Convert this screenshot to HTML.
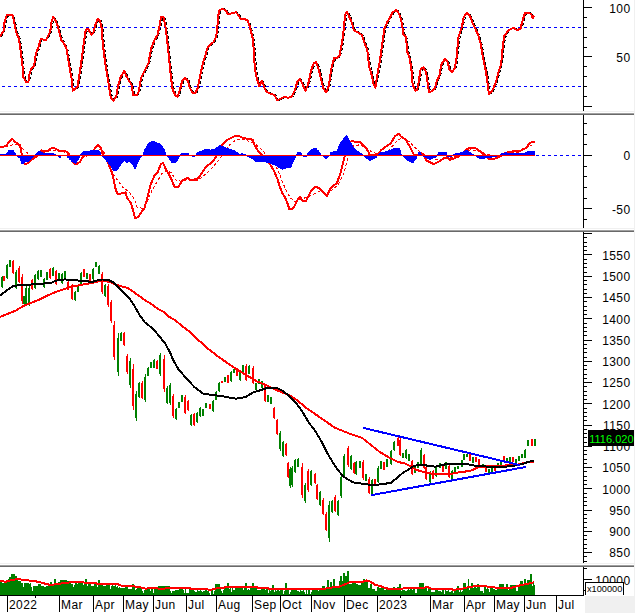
<!DOCTYPE html>
<html><head><meta charset="utf-8"><style>
html,body{margin:0;padding:0;background:#fff;width:635px;height:613px;overflow:hidden}
</style></head><body>
<svg width="635" height="613" viewBox="0 0 635 613" style="display:block"><rect x="0" y="0" width="635" height="613" fill="#fff"/><rect x="585" y="596" width="50" height="17" fill="#f0f0f0"/><rect x="634" y="0" width="1" height="596" fill="#f0f0f0"/><rect x="0" y="111" width="634" height="1" fill="#f0f0f0"/><rect x="0" y="113" width="634" height="1" fill="#a0a0a0"/><rect x="0" y="114" width="634" height="1" fill="#696969"/><rect x="0" y="228" width="634" height="1" fill="#f0f0f0"/><rect x="0" y="230" width="634" height="1" fill="#a0a0a0"/><rect x="0" y="231" width="634" height="1" fill="#696969"/><rect x="0" y="563" width="634" height="1" fill="#f0f0f0"/><rect x="0" y="565" width="634" height="1" fill="#a0a0a0"/><rect x="0" y="566" width="634" height="1" fill="#696969"/><rect x="583" y="0" width="1" height="111" fill="#000"/><rect x="583" y="115" width="1" height="113" fill="#000"/><rect x="583" y="232" width="1" height="331" fill="#000"/><rect x="583" y="567" width="1" height="28" fill="#000"/><rect x="583" y="7" width="9" height="1" fill="#000"/><rect x="583" y="17" width="4" height="1" fill="#000"/><rect x="583" y="27" width="4" height="1" fill="#000"/><rect x="583" y="37" width="4" height="1" fill="#000"/><rect x="583" y="47" width="4" height="1" fill="#000"/><rect x="583" y="56" width="9" height="1" fill="#000"/><rect x="583" y="66" width="4" height="1" fill="#000"/><rect x="583" y="76" width="4" height="1" fill="#000"/><rect x="583" y="86" width="4" height="1" fill="#000"/><rect x="583" y="96" width="4" height="1" fill="#000"/><rect x="583" y="106" width="9" height="1" fill="#000"/><text x="630.5" y="13.1" text-anchor="end" font-family='"Liberation Sans", sans-serif' font-size="12" letter-spacing="0.4" fill="#000">100</text><text x="630.5" y="61.7" text-anchor="end" font-family='"Liberation Sans", sans-serif' font-size="12" letter-spacing="0.4" fill="#000">50</text><rect x="583" y="219" width="4" height="1" fill="#000"/><rect x="583" y="208" width="9" height="1" fill="#000"/><rect x="583" y="198" width="4" height="1" fill="#000"/><rect x="583" y="187" width="4" height="1" fill="#000"/><rect x="583" y="176" width="4" height="1" fill="#000"/><rect x="583" y="166" width="4" height="1" fill="#000"/><rect x="583" y="155" width="9" height="1" fill="#000"/><rect x="583" y="144" width="4" height="1" fill="#000"/><rect x="583" y="134" width="4" height="1" fill="#000"/><rect x="583" y="123" width="4" height="1" fill="#000"/><text x="630.5" y="160.2" text-anchor="end" font-family='"Liberation Sans", sans-serif' font-size="12" letter-spacing="0.4" fill="#000">0</text><text x="630.5" y="213.5" text-anchor="end" font-family='"Liberation Sans", sans-serif' font-size="12" letter-spacing="0.4" fill="#000">-50</text><rect x="583" y="233" width="9" height="1" fill="#000"/><rect x="583" y="237" width="4" height="1" fill="#000"/><rect x="583" y="242" width="4" height="1" fill="#000"/><rect x="583" y="246" width="4" height="1" fill="#000"/><rect x="583" y="250" width="4" height="1" fill="#000"/><rect x="583" y="254" width="9" height="1" fill="#000"/><rect x="583" y="259" width="4" height="1" fill="#000"/><rect x="583" y="263" width="4" height="1" fill="#000"/><rect x="583" y="267" width="4" height="1" fill="#000"/><rect x="583" y="272" width="4" height="1" fill="#000"/><rect x="583" y="276" width="9" height="1" fill="#000"/><rect x="583" y="280" width="4" height="1" fill="#000"/><rect x="583" y="284" width="4" height="1" fill="#000"/><rect x="583" y="289" width="4" height="1" fill="#000"/><rect x="583" y="293" width="4" height="1" fill="#000"/><rect x="583" y="297" width="9" height="1" fill="#000"/><rect x="583" y="301" width="4" height="1" fill="#000"/><rect x="583" y="306" width="4" height="1" fill="#000"/><rect x="583" y="310" width="4" height="1" fill="#000"/><rect x="583" y="314" width="4" height="1" fill="#000"/><rect x="583" y="318" width="9" height="1" fill="#000"/><rect x="583" y="323" width="4" height="1" fill="#000"/><rect x="583" y="327" width="4" height="1" fill="#000"/><rect x="583" y="331" width="4" height="1" fill="#000"/><rect x="583" y="335" width="4" height="1" fill="#000"/><rect x="583" y="340" width="9" height="1" fill="#000"/><rect x="583" y="344" width="4" height="1" fill="#000"/><rect x="583" y="348" width="4" height="1" fill="#000"/><rect x="583" y="352" width="4" height="1" fill="#000"/><rect x="583" y="357" width="4" height="1" fill="#000"/><rect x="583" y="361" width="9" height="1" fill="#000"/><rect x="583" y="365" width="4" height="1" fill="#000"/><rect x="583" y="369" width="4" height="1" fill="#000"/><rect x="583" y="374" width="4" height="1" fill="#000"/><rect x="583" y="378" width="4" height="1" fill="#000"/><rect x="583" y="382" width="9" height="1" fill="#000"/><rect x="583" y="386" width="4" height="1" fill="#000"/><rect x="583" y="391" width="4" height="1" fill="#000"/><rect x="583" y="395" width="4" height="1" fill="#000"/><rect x="583" y="399" width="4" height="1" fill="#000"/><rect x="583" y="403" width="9" height="1" fill="#000"/><rect x="583" y="408" width="4" height="1" fill="#000"/><rect x="583" y="412" width="4" height="1" fill="#000"/><rect x="583" y="416" width="4" height="1" fill="#000"/><rect x="583" y="420" width="4" height="1" fill="#000"/><rect x="583" y="425" width="9" height="1" fill="#000"/><rect x="583" y="429" width="4" height="1" fill="#000"/><rect x="583" y="433" width="4" height="1" fill="#000"/><rect x="583" y="437" width="4" height="1" fill="#000"/><rect x="583" y="442" width="4" height="1" fill="#000"/><rect x="583" y="446" width="9" height="1" fill="#000"/><rect x="583" y="450" width="4" height="1" fill="#000"/><rect x="583" y="454" width="4" height="1" fill="#000"/><rect x="583" y="459" width="4" height="1" fill="#000"/><rect x="583" y="463" width="4" height="1" fill="#000"/><rect x="583" y="467" width="9" height="1" fill="#000"/><rect x="583" y="471" width="4" height="1" fill="#000"/><rect x="583" y="476" width="4" height="1" fill="#000"/><rect x="583" y="480" width="4" height="1" fill="#000"/><rect x="583" y="484" width="4" height="1" fill="#000"/><rect x="583" y="488" width="9" height="1" fill="#000"/><rect x="583" y="493" width="4" height="1" fill="#000"/><rect x="583" y="497" width="4" height="1" fill="#000"/><rect x="583" y="501" width="4" height="1" fill="#000"/><rect x="583" y="505" width="4" height="1" fill="#000"/><rect x="583" y="510" width="9" height="1" fill="#000"/><rect x="583" y="514" width="4" height="1" fill="#000"/><rect x="583" y="518" width="4" height="1" fill="#000"/><rect x="583" y="522" width="4" height="1" fill="#000"/><rect x="583" y="527" width="4" height="1" fill="#000"/><rect x="583" y="531" width="9" height="1" fill="#000"/><rect x="583" y="535" width="4" height="1" fill="#000"/><rect x="583" y="539" width="4" height="1" fill="#000"/><rect x="583" y="544" width="4" height="1" fill="#000"/><rect x="583" y="548" width="4" height="1" fill="#000"/><rect x="583" y="552" width="9" height="1" fill="#000"/><rect x="583" y="556" width="4" height="1" fill="#000"/><rect x="583" y="561" width="4" height="1" fill="#000"/><text x="630.5" y="259.7" text-anchor="end" font-family='"Liberation Sans", sans-serif' font-size="12" letter-spacing="0.4" fill="#000">1550</text><text x="630.5" y="281.0" text-anchor="end" font-family='"Liberation Sans", sans-serif' font-size="12" letter-spacing="0.4" fill="#000">1500</text><text x="630.5" y="302.2" text-anchor="end" font-family='"Liberation Sans", sans-serif' font-size="12" letter-spacing="0.4" fill="#000">1450</text><text x="630.5" y="323.5" text-anchor="end" font-family='"Liberation Sans", sans-serif' font-size="12" letter-spacing="0.4" fill="#000">1400</text><text x="630.5" y="344.7" text-anchor="end" font-family='"Liberation Sans", sans-serif' font-size="12" letter-spacing="0.4" fill="#000">1350</text><text x="630.5" y="366.0" text-anchor="end" font-family='"Liberation Sans", sans-serif' font-size="12" letter-spacing="0.4" fill="#000">1300</text><text x="630.5" y="387.3" text-anchor="end" font-family='"Liberation Sans", sans-serif' font-size="12" letter-spacing="0.4" fill="#000">1250</text><text x="630.5" y="408.5" text-anchor="end" font-family='"Liberation Sans", sans-serif' font-size="12" letter-spacing="0.4" fill="#000">1200</text><text x="630.5" y="429.8" text-anchor="end" font-family='"Liberation Sans", sans-serif' font-size="12" letter-spacing="0.4" fill="#000">1150</text><text x="630.5" y="451.0" text-anchor="end" font-family='"Liberation Sans", sans-serif' font-size="12" letter-spacing="0.4" fill="#000">1100</text><text x="630.5" y="472.3" text-anchor="end" font-family='"Liberation Sans", sans-serif' font-size="12" letter-spacing="0.4" fill="#000">1050</text><text x="630.5" y="493.6" text-anchor="end" font-family='"Liberation Sans", sans-serif' font-size="12" letter-spacing="0.4" fill="#000">1000</text><text x="630.5" y="514.8" text-anchor="end" font-family='"Liberation Sans", sans-serif' font-size="12" letter-spacing="0.4" fill="#000">950</text><text x="630.5" y="536.1" text-anchor="end" font-family='"Liberation Sans", sans-serif' font-size="12" letter-spacing="0.4" fill="#000">900</text><text x="630.5" y="557.3" text-anchor="end" font-family='"Liberation Sans", sans-serif' font-size="12" letter-spacing="0.4" fill="#000">850</text><rect x="583" y="568" width="4" height="1" fill="#000"/><rect x="583" y="579" width="9" height="1" fill="#000"/><rect x="583" y="590" width="4" height="1" fill="#000"/><text x="630.5" y="584.6" text-anchor="end" font-family='"Liberation Sans", sans-serif' font-size="12" letter-spacing="0.4" fill="#000">10000</text><g shape-rendering="crispEdges"><line x1="0" y1="27.5" x2="583" y2="27.5" stroke="#0000ff" stroke-width="1" stroke-dasharray="3 3" stroke-dashoffset="4"/><line x1="0" y1="86.5" x2="583" y2="86.5" stroke="#0000ff" stroke-width="1" stroke-dasharray="3 3" stroke-dashoffset="4"/><line x1="0" y1="155.5" x2="583" y2="155.5" stroke="#0000ff" stroke-width="1" stroke-dasharray="3 3" stroke-dashoffset="4"/></g><path d="M0.7 36.8 L1.2 36.3 L1.7 35.8 L2.2 35.3 L2.7 34.3 L3.2 33.5 L3.7 32.7 L4.2 32.0 L4.7 31.0 L5.2 28.6 L5.7 25.9 L6.2 22.9 L6.7 20.1 L7.2 18.5 L7.7 17.1 L8.2 16.1 L8.7 15.4 L9.2 15.0 L9.7 14.9 L10.2 14.8 L10.7 14.8 L11.2 14.9 L11.7 14.9 L12.2 15.0 L12.7 15.1 L13.2 15.2 L13.7 15.7 L14.2 16.7 L14.7 18.3 L15.2 20.4 L15.7 22.7 L16.2 25.1 L16.7 27.6 L17.2 29.9 L17.7 31.8 L18.2 33.5 L18.7 34.8 L19.2 35.9 L19.7 37.2 L20.2 39.0 L20.7 41.5 L21.2 44.5 L21.7 48.0 L22.2 51.7 L22.7 55.5 L23.2 59.6 L23.7 64.5 L24.2 69.5 L24.7 73.7 L25.2 77.0 L25.7 78.8 L26.2 79.6 L26.7 80.5 L27.2 81.1 L27.7 81.5 L28.2 81.7 L28.7 81.7 L29.2 81.5 L29.7 80.5 L30.2 78.7 L30.7 76.3 L31.2 73.8 L31.7 71.7 L32.2 70.2 L32.7 69.0 L33.2 68.0 L33.7 67.3 L34.2 66.8 L34.7 66.3 L35.2 65.3 L35.7 63.6 L36.2 61.2 L36.7 58.2 L37.2 55.5 L37.7 53.3 L38.2 51.6 L38.7 50.3 L39.2 49.0 L39.7 47.5 L40.2 46.0 L40.7 44.4 L41.2 42.7 L41.7 41.0 L42.2 39.8 L42.7 39.1 L43.2 38.9 L43.7 39.2 L44.2 39.3 L44.7 39.5 L45.2 39.7 L45.7 39.9 L46.2 40.0 L46.7 40.1 L47.2 39.9 L47.7 39.3 L48.2 38.5 L48.7 37.5 L49.2 36.5 L49.7 35.5 L50.2 34.5 L50.7 33.5 L51.2 32.1 L51.7 29.9 L52.2 27.3 L52.7 24.4 L53.2 21.8 L53.7 19.9 L54.2 18.7 L54.7 18.1 L55.2 18.1 L55.7 18.6 L56.2 19.3 L56.7 20.1 L57.2 21.1 L57.7 22.2 L58.2 23.5 L58.7 24.9 L59.2 26.4 L59.7 28.0 L60.2 29.9 L60.7 31.9 L61.2 34.1 L61.7 36.2 L62.2 38.0 L62.7 39.5 L63.2 40.5 L63.7 41.2 L64.2 41.8 L64.7 42.5 L65.2 43.3 L65.7 44.2 L66.2 45.2 L66.7 46.2 L67.2 47.3 L67.7 48.9 L68.2 51.0 L68.7 53.6 L69.2 56.5 L69.7 59.5 L70.2 62.5 L70.7 65.5 L71.2 68.4 L71.7 71.1 L72.2 73.8 L72.7 76.7 L73.2 80.6 L73.7 84.4 L74.2 87.6 L74.7 89.7 L75.2 90.0 L75.7 89.7 L76.2 89.3 L76.7 88.9 L77.2 88.4 L77.7 87.9 L78.2 87.2 L78.7 86.1 L79.2 84.4 L79.7 82.0 L80.2 79.0 L80.7 75.9 L81.2 72.6 L81.7 69.3 L82.2 65.9 L82.7 62.3 L83.2 58.7 L83.7 55.0 L84.2 51.2 L84.7 47.4 L85.2 43.6 L85.7 40.0 L86.2 36.5 L86.7 33.4 L87.2 31.3 L87.7 29.9 L88.2 29.2 L88.7 29.0 L89.2 29.1 L89.7 29.5 L90.2 30.2 L90.7 31.2 L91.2 32.0 L91.7 32.7 L92.2 33.3 L92.7 33.8 L93.2 34.0 L93.7 33.8 L94.2 33.2 L94.7 32.1 L95.2 30.7 L95.7 28.9 L96.2 27.0 L96.7 25.3 L97.2 23.9 L97.7 22.6 L98.2 21.4 L98.7 20.4 L99.2 19.7 L99.7 19.5 L100.2 19.6 L100.7 20.0 L101.2 20.9 L101.7 22.2 L102.2 24.0 L102.7 26.8 L103.2 31.1 L103.7 36.2 L104.2 41.7 L104.7 47.1 L105.2 51.5 L105.7 55.4 L106.2 59.4 L106.7 63.1 L107.2 66.5 L107.7 69.7 L108.2 72.7 L108.7 75.7 L109.2 78.7 L109.7 81.8 L110.2 84.9 L110.7 88.0 L111.2 91.2 L111.7 94.1 L112.2 96.3 L112.7 97.9 L113.2 98.8 L113.7 99.2 L114.2 99.8 L114.7 100.0 L115.2 99.9 L115.7 99.5 L116.2 98.8 L116.7 98.2 L117.2 97.2 L117.7 95.6 L118.2 93.4 L118.7 90.7 L119.2 88.0 L119.7 85.6 L120.2 83.6 L120.7 81.9 L121.2 80.1 L121.7 78.6 L122.2 77.2 L122.7 76.1 L123.2 75.2 L123.7 74.3 L124.2 73.4 L124.7 72.6 L125.2 72.0 L125.7 71.9 L126.2 72.4 L126.7 73.3 L127.2 74.5 L127.7 75.7 L128.2 76.7 L128.7 77.7 L129.2 78.6 L129.7 79.4 L130.2 80.2 L130.7 81.0 L131.2 81.8 L131.7 82.6 L132.2 83.5 L132.7 84.9 L133.2 86.9 L133.7 89.5 L134.2 92.1 L134.7 93.9 L135.2 94.9 L135.7 95.2 L136.2 95.2 L136.7 95.2 L137.2 95.2 L137.7 95.1 L138.2 94.8 L138.7 94.2 L139.2 93.3 L139.7 92.0 L140.2 90.2 L140.7 88.0 L141.2 85.5 L141.7 82.8 L142.2 80.3 L142.7 78.2 L143.2 76.6 L143.7 75.3 L144.2 74.3 L144.7 73.3 L145.2 72.3 L145.7 71.3 L146.2 70.3 L146.7 69.3 L147.2 68.3 L147.7 67.3 L148.2 66.3 L148.7 65.3 L149.2 64.3 L149.7 62.9 L150.2 61.1 L150.7 58.8 L151.2 56.2 L151.7 53.5 L152.2 51.1 L152.7 49.0 L153.2 47.2 L153.7 45.7 L154.2 44.4 L154.7 43.1 L155.2 41.9 L155.7 40.8 L156.2 39.8 L156.7 38.9 L157.2 38.1 L157.7 37.2 L158.2 36.3 L158.7 35.1 L159.2 33.5 L159.7 31.6 L160.2 29.4 L160.7 27.1 L161.2 24.6 L161.7 21.8 L162.2 19.6 L162.7 18.0 L163.2 17.1 L163.7 17.1 L164.2 17.1 L164.7 17.5 L165.2 18.6 L165.7 20.4 L166.2 22.8 L166.7 25.9 L167.2 29.2 L167.7 32.9 L168.2 37.0 L168.7 41.3 L169.2 45.9 L169.7 50.7 L170.2 55.7 L170.7 60.7 L171.2 65.7 L171.7 70.6 L172.2 75.2 L172.7 79.3 L173.2 83.2 L173.7 86.3 L174.2 88.8 L174.7 90.7 L175.2 91.9 L175.7 92.9 L176.2 93.9 L176.7 94.7 L177.2 95.3 L177.7 95.9 L178.2 96.2 L178.7 96.2 L179.2 95.8 L179.7 94.8 L180.2 93.3 L180.7 91.8 L181.2 90.1 L181.7 88.3 L182.2 86.5 L182.7 84.5 L183.2 82.8 L183.7 81.4 L184.2 80.5 L184.7 79.9 L185.2 79.4 L185.7 79.0 L186.2 78.7 L186.7 78.6 L187.2 78.7 L187.7 79.0 L188.2 79.5 L188.7 80.0 L189.2 80.9 L189.7 82.2 L190.2 83.8 L190.7 85.7 L191.2 87.3 L191.7 88.6 L192.2 89.6 L192.7 90.4 L193.2 91.2 L193.7 91.9 L194.2 92.4 L194.7 92.8 L195.2 92.9 L195.7 93.1 L196.2 93.1 L196.7 92.8 L197.2 92.1 L197.7 91.2 L198.2 90.2 L198.7 89.0 L199.2 87.3 L199.7 85.3 L200.2 82.8 L200.7 80.1 L201.2 77.5 L201.7 75.1 L202.2 72.8 L202.7 70.6 L203.2 68.5 L203.7 66.4 L204.2 64.4 L204.7 62.5 L205.2 60.6 L205.7 58.9 L206.2 57.2 L206.7 55.6 L207.2 53.9 L207.7 52.1 L208.2 50.4 L208.7 49.0 L209.2 47.9 L209.7 47.1 L210.2 46.4 L210.7 45.8 L211.2 45.2 L211.7 44.7 L212.2 44.3 L212.7 43.9 L213.2 43.5 L213.7 43.1 L214.2 42.8 L214.7 42.2 L215.2 41.5 L215.7 40.7 L216.2 39.7 L216.7 38.7 L217.2 37.2 L217.7 34.8 L218.2 31.4 L218.7 27.0 L219.2 22.2 L219.7 17.5 L220.2 13.9 L220.7 11.5 L221.2 10.3 L221.7 10.0 L222.2 9.6 L222.7 9.3 L223.2 9.0 L223.7 8.9 L224.2 8.9 L224.7 9.1 L225.2 9.4 L225.7 9.7 L226.2 10.0 L226.7 10.3 L227.2 10.8 L227.7 11.4 L228.2 12.1 L228.7 12.9 L229.2 13.5 L229.7 13.8 L230.2 13.9 L230.7 13.8 L231.2 13.7 L231.7 13.7 L232.2 13.6 L232.7 13.5 L233.2 13.4 L233.7 13.3 L234.2 13.1 L234.7 13.0 L235.2 12.8 L235.7 12.7 L236.2 12.5 L236.7 12.4 L237.2 12.5 L237.7 12.7 L238.2 13.2 L238.7 13.8 L239.2 14.3 L239.7 15.0 L240.2 15.7 L240.7 16.6 L241.2 17.6 L241.7 18.2 L242.2 18.7 L242.7 18.9 L243.2 18.9 L243.7 18.9 L244.2 18.9 L244.7 18.9 L245.2 19.0 L245.7 19.1 L246.2 19.3 L246.7 19.5 L247.2 19.7 L247.7 20.0 L248.2 20.2 L248.7 20.6 L249.2 21.3 L249.7 22.3 L250.2 23.5 L250.7 25.0 L251.2 26.6 L251.7 28.5 L252.2 30.5 L252.7 32.5 L253.2 34.5 L253.7 36.5 L254.2 39.8 L254.7 44.3 L255.2 50.7 L255.7 58.1 L256.2 64.4 L256.7 69.5 L257.2 72.9 L257.7 75.3 L258.2 77.4 L258.7 79.4 L259.2 81.2 L259.7 82.9 L260.2 84.2 L260.7 84.9 L261.2 84.8 L261.7 84.1 L262.2 83.1 L262.7 82.2 L263.2 81.9 L263.7 82.2 L264.2 83.1 L264.7 84.4 L265.2 85.7 L265.7 87.0 L266.2 88.2 L266.7 89.3 L267.2 90.3 L267.7 91.0 L268.2 91.6 L268.7 92.0 L269.2 92.3 L269.7 92.5 L270.2 92.8 L270.7 93.0 L271.2 93.3 L271.7 93.5 L272.2 93.7 L272.7 93.9 L273.2 94.1 L273.7 94.3 L274.2 94.5 L274.7 94.7 L275.2 94.9 L275.7 95.3 L276.2 95.9 L276.7 96.7 L277.2 97.7 L277.7 98.6 L278.2 99.4 L278.7 99.9 L279.2 100.1 L279.7 100.0 L280.2 99.7 L280.7 99.5 L281.2 99.2 L281.7 99.0 L282.2 98.7 L282.7 98.5 L283.2 98.2 L283.7 98.0 L284.2 97.7 L284.7 97.5 L285.2 97.2 L285.7 97.1 L286.2 97.1 L286.7 97.1 L287.2 97.2 L287.7 97.4 L288.2 97.5 L288.7 97.6 L289.2 97.7 L289.7 97.7 L290.2 97.6 L290.7 97.5 L291.2 97.4 L291.7 97.2 L292.2 97.1 L292.7 96.8 L293.2 96.3 L293.7 95.6 L294.2 94.6 L294.7 93.7 L295.2 92.6 L295.7 91.4 L296.2 90.1 L296.7 88.6 L297.2 87.0 L297.7 85.5 L298.2 84.0 L298.7 82.6 L299.2 81.4 L299.7 80.6 L300.2 80.0 L300.7 79.6 L301.2 79.6 L301.7 79.9 L302.2 80.5 L302.7 81.5 L303.2 82.5 L303.7 83.5 L304.2 84.6 L304.7 85.7 L305.2 86.9 L305.7 88.0 L306.2 89.1 L306.7 89.5 L307.2 89.4 L307.7 88.7 L308.2 87.6 L308.7 86.4 L309.2 85.0 L309.7 83.3 L310.2 81.3 L310.7 79.0 L311.2 76.7 L311.7 74.5 L312.2 72.4 L312.7 70.6 L313.2 69.0 L313.7 67.5 L314.2 66.0 L314.7 64.7 L315.2 63.8 L315.7 63.2 L316.2 62.9 L316.7 62.5 L317.2 62.5 L317.7 62.9 L318.2 63.7 L318.7 65.1 L319.2 66.6 L319.7 68.1 L320.2 69.8 L320.7 71.6 L321.2 73.5 L321.7 75.6 L322.2 77.7 L322.7 79.7 L323.2 81.8 L323.7 83.8 L324.2 85.7 L324.7 87.3 L325.2 88.6 L325.7 89.6 L326.2 90.4 L326.7 91.2 L327.2 91.6 L327.7 91.4 L328.2 90.8 L328.7 89.6 L329.2 88.4 L329.7 86.9 L330.2 84.9 L330.7 82.3 L331.2 79.2 L331.7 75.9 L332.2 72.6 L332.7 69.7 L333.2 67.2 L333.7 65.1 L334.2 63.2 L334.7 61.4 L335.2 60.0 L335.7 58.9 L336.2 58.4 L336.7 58.3 L337.2 58.3 L337.7 58.3 L338.2 58.1 L338.7 57.8 L339.2 57.4 L339.7 56.9 L340.2 56.4 L340.7 55.4 L341.2 53.8 L341.7 51.7 L342.2 49.0 L342.7 46.4 L343.2 43.5 L343.7 40.3 L344.2 36.8 L344.7 32.9 L345.2 28.6 L345.7 24.0 L346.2 19.8 L346.7 16.3 L347.2 14.0 L347.7 12.8 L348.2 12.5 L348.7 12.7 L349.2 13.4 L349.7 14.5 L350.2 15.6 L350.7 16.8 L351.2 17.9 L351.7 19.1 L352.2 20.2 L352.7 21.3 L353.2 22.7 L353.7 24.2 L354.2 25.9 L354.7 27.8 L355.2 29.3 L355.7 30.3 L356.2 30.9 L356.7 31.2 L357.2 31.4 L357.7 31.7 L358.2 31.9 L358.7 32.2 L359.2 32.5 L359.7 32.8 L360.2 33.1 L360.7 33.4 L361.2 33.7 L361.7 34.0 L362.2 34.3 L362.7 34.7 L363.2 35.3 L363.7 36.3 L364.2 37.6 L364.7 39.0 L365.2 40.5 L365.7 42.0 L366.2 43.4 L366.7 44.8 L367.2 46.2 L367.7 47.5 L368.2 49.1 L368.7 51.6 L369.2 54.8 L369.7 58.8 L370.2 62.7 L370.7 65.9 L371.2 68.4 L371.7 70.2 L372.2 71.9 L372.7 73.6 L373.2 75.6 L373.7 77.8 L374.2 80.1 L374.7 82.3 L375.2 84.2 L375.7 85.6 L376.2 86.5 L376.7 86.1 L377.2 84.6 L377.7 82.0 L378.2 78.7 L378.7 75.5 L379.2 72.5 L379.7 69.8 L380.2 67.1 L380.7 64.4 L381.2 61.5 L381.7 58.2 L382.2 54.8 L382.7 51.1 L383.2 47.5 L383.7 43.9 L384.2 40.3 L384.7 36.8 L385.2 33.4 L385.7 30.6 L386.2 28.3 L386.7 26.7 L387.2 25.5 L387.7 24.4 L388.2 23.3 L388.7 22.3 L389.2 21.4 L389.7 20.5 L390.2 19.7 L390.7 18.9 L391.2 18.0 L391.7 17.1 L392.2 16.1 L392.7 15.1 L393.2 14.1 L393.7 13.3 L394.2 12.6 L394.7 12.0 L395.2 11.7 L395.7 11.3 L396.2 10.9 L396.7 10.5 L397.2 10.4 L397.7 10.4 L398.2 10.7 L398.7 11.2 L399.2 11.9 L399.7 12.6 L400.2 13.5 L400.7 14.5 L401.2 15.9 L401.7 17.4 L402.2 19.2 L402.7 21.3 L403.2 23.7 L403.7 26.7 L404.2 29.7 L404.7 32.4 L405.2 34.3 L405.7 35.3 L406.2 35.9 L406.7 36.5 L407.2 38.3 L407.7 41.9 L408.2 45.8 L408.7 49.9 L409.2 53.0 L409.7 54.5 L410.2 55.9 L410.7 57.4 L411.2 59.5 L411.7 62.1 L412.2 65.2 L412.7 69.2 L413.2 74.1 L413.7 78.7 L414.2 82.7 L414.7 85.6 L415.2 87.1 L415.7 88.2 L416.2 89.3 L416.7 89.9 L417.2 90.3 L417.7 90.2 L418.2 89.5 L418.7 88.3 L419.2 86.4 L419.7 84.0 L420.2 81.2 L420.7 78.2 L421.2 74.9 L421.7 72.1 L422.2 70.1 L422.7 68.8 L423.2 68.3 L423.7 68.0 L424.2 67.8 L424.7 67.9 L425.2 68.2 L425.7 68.9 L426.2 69.7 L426.7 70.5 L427.2 72.0 L427.7 74.2 L428.2 77.0 L428.7 80.5 L429.2 83.9 L429.7 87.1 L430.2 89.6 L430.7 91.2 L431.2 92.0 L431.7 91.9 L432.2 91.6 L432.7 91.3 L433.2 91.0 L433.7 90.6 L434.2 90.2 L434.7 89.8 L435.2 89.2 L435.7 88.8 L436.2 87.9 L436.7 86.6 L437.2 85.0 L437.7 83.1 L438.2 81.5 L438.7 80.1 L439.2 78.9 L439.7 77.9 L440.2 76.9 L440.7 75.4 L441.2 73.4 L441.7 70.9 L442.2 68.1 L442.7 65.9 L443.2 64.3 L443.7 63.2 L444.2 62.4 L444.7 61.7 L445.2 60.9 L445.7 60.2 L446.2 59.9 L446.7 59.8 L447.2 60.1 L447.7 60.5 L448.2 61.0 L448.7 61.8 L449.2 63.0 L449.7 64.6 L450.2 66.4 L450.7 68.0 L451.2 69.2 L451.7 70.0 L452.2 70.4 L452.7 70.9 L453.2 71.2 L453.7 71.2 L454.2 70.9 L454.7 70.3 L455.2 69.6 L455.7 68.7 L456.2 67.2 L456.7 65.2 L457.2 62.6 L457.7 59.0 L458.2 54.8 L458.7 49.8 L459.2 44.5 L459.7 40.2 L460.2 37.0 L460.7 34.9 L461.2 33.3 L461.7 31.8 L462.2 30.3 L462.7 28.8 L463.2 26.9 L463.7 24.7 L464.2 22.3 L464.7 19.9 L465.2 18.0 L465.7 16.6 L466.2 15.8 L466.7 15.2 L467.2 14.5 L467.7 13.9 L468.2 13.4 L468.7 13.2 L469.2 13.4 L469.7 13.9 L470.2 14.5 L470.7 15.2 L471.2 16.0 L471.7 17.0 L472.2 18.2 L472.7 19.5 L473.2 20.8 L473.7 22.1 L474.2 23.3 L474.7 24.4 L475.2 25.4 L475.7 26.4 L476.2 27.4 L476.7 28.5 L477.2 29.6 L477.7 30.7 L478.2 31.9 L478.7 33.0 L479.2 34.3 L479.7 35.7 L480.2 37.2 L480.7 38.8 L481.2 40.5 L481.7 42.3 L482.2 44.5 L482.7 47.1 L483.2 50.1 L483.7 53.3 L484.2 56.2 L484.7 58.9 L485.2 61.3 L485.7 63.5 L486.2 65.8 L486.7 68.3 L487.2 71.0 L487.7 73.9 L488.2 77.1 L488.7 80.7 L489.2 84.6 L489.7 88.5 L490.2 91.4 L490.7 93.0 L491.2 93.4 L491.7 92.9 L492.2 92.5 L492.7 91.9 L493.2 91.1 L493.7 90.3 L494.2 89.3 L494.7 88.3 L495.2 87.3 L495.7 86.1 L496.2 84.9 L496.7 83.6 L497.2 82.2 L497.7 80.8 L498.2 79.1 L498.7 77.3 L499.2 75.3 L499.7 73.4 L500.2 71.6 L500.7 70.0 L501.2 68.4 L501.7 66.4 L502.2 64.2 L502.7 61.2 L503.2 57.2 L503.7 52.5 L504.2 47.7 L504.7 43.4 L505.2 39.9 L505.7 37.6 L506.2 35.9 L506.7 34.8 L507.2 34.1 L507.7 33.4 L508.2 32.8 L508.7 32.2 L509.2 31.6 L509.7 31.1 L510.2 30.6 L510.7 30.1 L511.2 29.7 L511.7 29.4 L512.2 29.1 L512.7 28.8 L513.2 28.6 L513.7 28.3 L514.2 28.1 L514.7 28.1 L515.2 28.2 L515.7 28.4 L516.2 28.8 L516.7 29.1 L517.2 29.4 L517.7 29.7 L518.2 29.9 L518.7 29.9 L519.2 29.8 L519.7 29.6 L520.2 29.4 L520.7 29.2 L521.2 29.0 L521.7 28.4 L522.2 27.3 L522.7 25.7 L523.2 23.7 L523.7 21.9 L524.2 20.1 L524.7 18.5 L525.2 16.9 L525.7 15.3 L526.2 14.1 L526.7 13.3 L527.2 12.8 L527.7 12.8 L528.2 12.8 L528.7 12.7 L529.2 12.7 L529.7 12.7 L530.2 12.8 L530.7 13.1 L531.2 13.4 L531.7 13.7 L532.2 14.1 L532.7 14.8 L533.2 15.7 L533.7 16.6 L534.2 17.1 L534.7 17.1" fill="none" stroke="#000" stroke-width="1" stroke-dasharray="3 2" shape-rendering="crispEdges"/><path d="M0.0 36.8 L1.8 33.2 L3.9 30.5 L4.5 22.4 L6.8 15.3 L8.6 14.7 L12.6 15.3 L14.4 23.3 L16.2 32.3 L18.9 38.6 L20.6 50.3 L22.4 64.6 L23.3 77.2 L26.0 81.7 L28.4 81.7 L29.6 73.6 L31.4 68.2 L34.1 65.5 L35.9 53.9 L38.6 46.7 L40.9 38.6 L43.1 39.5 L45.8 40.4 L48.5 35.0 L50.3 31.4 L51.2 23.3 L53.1 17.1 L55.7 20.6 L58.3 27.8 L61.0 39.5 L63.7 43.1 L66.4 48.5 L68.2 59.2 L70.0 70.0 L71.8 79.0 L72.7 90.7 L75.4 88.9 L77.6 86.2 L79.9 71.8 L81.7 59.2 L84.4 38.6 L85.8 29.6 L88.0 28.7 L89.8 32.3 L91.9 34.6 L93.4 32.3 L95.2 25.1 L97.8 18.9 L100.0 20.6 L101.8 28.7 L102.7 43.1 L105.4 64.6 L108.1 80.8 L110.8 97.8 L113.5 100.5 L116.2 96.9 L118.0 86.2 L120.6 77.2 L124.2 70.9 L126.9 77.2 L131.4 84.4 L133.2 95.2 L136.8 95.2 L138.6 91.6 L141.3 77.2 L144.9 70.0 L148.5 62.8 L151.2 48.5 L153.9 41.3 L157.5 35.0 L160.1 23.3 L161.0 17.1 L163.7 17.1 L165.5 26.9 L167.3 41.3 L169.1 59.2 L170.9 77.2 L172.7 89.8 L175.4 95.2 L177.6 96.9 L179.9 89.8 L182.2 80.8 L185.3 78.1 L188.0 80.8 L189.8 88.0 L192.5 92.5 L195.2 93.4 L197.8 88.0 L200.0 76.0 L201.8 68.2 L203.6 61.0 L206.3 52.1 L207.2 48.5 L209.9 44.9 L213.5 42.2 L216.2 36.8 L217.1 28.7 L218.0 19.7 L218.9 10.8 L222.4 8.6 L226.0 10.8 L227.8 14.0 L231.4 13.5 L235.9 12.2 L238.6 15.3 L240.4 18.9 L244.0 18.9 L247.6 20.6 L249.4 25.1 L251.2 32.3 L253.0 39.5 L253.9 52.1 L254.8 68.2 L256.6 77.2 L259.2 86.2 L261.9 80.8 L264.6 88.0 L266.4 91.6 L270.0 93.4 L274.5 95.2 L277.2 100.5 L280.8 98.7 L284.4 96.9 L288.0 97.8 L291.6 96.9 L294.3 91.6 L296.0 86.2 L297.8 80.8 L300.0 79.0 L302.7 84.4 L305.4 90.7 L308.1 84.4 L310.8 71.8 L313.5 63.7 L316.2 61.9 L318.9 70.0 L321.5 80.8 L323.3 88.0 L326.0 92.5 L328.7 86.2 L331.4 68.2 L334.1 58.3 L336.8 58.3 L339.5 55.7 L342.2 41.3 L344.0 26.9 L345.2 14.4 L347.0 11.7 L349.4 17.1 L352.1 23.3 L353.9 30.5 L357.5 32.3 L361.9 35.0 L364.6 43.1 L367.3 50.3 L369.1 66.4 L371.8 75.4 L373.6 84.4 L375.4 88.0 L377.2 75.4 L379.9 61.0 L382.6 41.3 L384.4 28.7 L387.1 22.4 L389.8 18.0 L392.5 12.6 L396.1 9.9 L398.4 12.6 L400.0 16.2 L402.2 25.1 L403.2 34.1 L406.3 37.7 L406.8 50.3 L409.9 59.2 L411.7 71.8 L412.6 84.4 L415.3 90.7 L417.1 89.8 L418.9 80.8 L420.6 69.1 L423.3 67.3 L426.0 71.8 L427.8 84.4 L429.1 92.5 L432.3 90.7 L435.0 88.0 L436.8 80.8 L439.5 75.4 L441.3 64.6 L444.9 59.2 L447.6 61.9 L449.4 69.1 L452.1 71.8 L454.8 68.2 L456.6 57.5 L458.3 37.7 L461.9 26.9 L463.7 17.1 L467.3 12.6 L470.0 16.2 L472.7 23.3 L475.4 28.7 L478.1 35.0 L480.8 44.0 L482.9 57.5 L485.3 68.2 L487.1 79.0 L488.9 94.3 L491.6 91.6 L494.3 86.2 L496.9 79.0 L498.1 73.6 L500.4 66.4 L501.7 59.2 L502.9 44.9 L504.4 35.9 L507.1 32.3 L509.7 29.6 L513.3 27.8 L516.9 30.2 L520.5 28.7 L522.3 21.5 L525.0 12.9 L528.6 12.6 L531.3 14.4 L532.7 18.0 L534.5 15.8" fill="none" stroke="#ff0000" stroke-width="2" stroke-linejoin="round" shape-rendering="crispEdges"/><path d="M0.0 148.0 L8.7 146.0 L10.6 145.2 L20.0 144.0 L23.2 149.2 L25.6 151.5 L30.0 155.0 L35.0 157.0 L40.0 155.0 L45.0 152.0 L50.0 150.5 L60.0 150.5 L70.0 154.0 L78.0 158.0 L85.0 157.0 L92.0 153.0 L100.0 149.0 L107.9 156.0 L112.8 173.9 L117.7 180.5 L122.6 187.0 L129.2 191.9 L134.0 198.4 L137.3 207.4 L142.2 208.2 L147.1 201.7 L152.0 190.3 L156.9 182.1 L161.8 173.9 L166.7 170.7 L171.3 172.9 L176.4 180.4 L181.4 181.3 L187.9 179.6 L201.6 177.9 L210.4 169.7 L216.7 162.8 L220.5 157.7 L229.3 145.2 L235.6 140.1 L243.0 139.0 L255.6 144.1 L262.9 150.7 L270.2 160.2 L277.6 169.1 L282.0 180.8 L286.4 191.1 L290.8 198.4 L295.2 201.4 L301.1 199.2 L311.4 195.5 L318.5 191.6 L327.0 194.4 L338.3 184.5 L344.0 173.2 L348.2 156.2 L352.5 146.2 L359.6 144.8 L366.7 147.7 L370.9 151.2 L379.4 154.7 L389.3 149.8 L398.0 139.5 L404.0 138.0 L410.0 142.5 L417.5 149.9 L424.9 156.7 L439.9 160.4 L450.4 157.4 L459.4 155.9 L469.9 149.9 L480.3 151.4 L487.8 154.4 L497.0 157.0 L514.0 152.0 L532.0 145.0" fill="none" stroke="#ff0000" stroke-width="1" stroke-dasharray="3 2" shape-rendering="crispEdges"/><path d="M0.0 147.6 L6.3 146.0 L9.4 141.3 L12.2 138.5 L14.2 140.9 L15.0 141.9 L17.5 143.1 L20.0 145.7 L21.0 149.4 L21.9 155.1 L23.0 162.0 L26.0 164.5 L29.5 161.4 L33.9 158.3 L37.7 155.7 L41.5 150.1 L42.7 151.3 L47.8 151.0 L50.9 148.5 L53.4 147.9 L55.0 148.5 L57.6 149.8 L59.5 151.3 L65.1 150.8 L67.5 152.7 L68.9 155.0 L71.7 159.3 L74.1 163.6 L77.4 163.6 L80.2 161.7 L82.6 156.9 L85.0 155.0 L89.7 152.7 L92.5 151.3 L95.4 148.0 L98.2 145.1 L101.0 148.0 L102.5 153.6 L104.0 157.0 L106.5 160.0 L108.7 164.4 L111.6 171.7 L113.8 180.5 L116.0 190.8 L118.2 194.5 L122.6 193.0 L125.6 192.3 L127.0 198.1 L130.7 202.5 L132.9 209.9 L135.1 218.0 L138.0 217.2 L141.0 212.8 L144.6 207.7 L147.6 196.7 L150.5 184.9 L154.2 176.1 L157.9 171.7 L160.8 164.4 L163.1 162.8 L165.7 169.1 L168.8 174.1 L171.3 179.2 L174.5 186.7 L178.3 186.7 L182.7 180.4 L187.7 177.9 L190.2 180.4 L196.5 180.4 L200.3 175.4 L206.6 165.9 L211.6 162.8 L215.4 157.7 L216.7 154.6 L221.7 145.2 L226.8 140.1 L231.8 137.6 L235.6 135.7 L240.0 136.5 L243.8 138.2 L252.6 139.7 L254.8 145.6 L258.5 151.4 L262.2 155.1 L265.8 160.2 L270.2 164.6 L273.9 170.5 L277.6 179.3 L279.8 186.7 L282.0 192.5 L284.9 197.0 L287.9 204.3 L289.3 209.4 L292.3 209.4 L295.2 205.0 L298.1 198.4 L300.3 197.0 L302.5 200.6 L306.2 200.6 L309.9 193.0 L312.8 188.9 L315.7 186.6 L319.9 188.7 L323.5 192.3 L327.0 195.8 L331.2 187.3 L336.9 183.1 L340.5 173.2 L343.3 161.8 L345.4 153.3 L347.5 146.2 L351.1 141.3 L359.6 142.0 L363.8 145.5 L368.1 151.2 L369.5 154.7 L373.7 155.5 L378.0 154.0 L380.8 150.5 L386.5 146.2 L390.7 143.4 L395.0 136.3 L398.5 133.8 L401.0 136.5 L405.5 139.5 L410.0 146.9 L413.7 154.4 L416.0 155.9 L420.4 152.9 L423.4 154.4 L426.4 160.4 L429.4 161.9 L433.9 164.2 L438.4 161.9 L442.9 158.9 L447.4 156.7 L449.6 159.7 L453.4 158.9 L457.9 156.7 L462.4 153.7 L466.9 149.2 L469.9 147.7 L475.8 148.4 L480.3 151.4 L484.8 155.2 L488.7 158.8 L493.9 158.8 L499.1 157.1 L504.3 153.6 L509.5 151.9 L514.7 151.0 L518.1 151.9 L523.3 149.3 L526.8 147.5 L529.4 143.2 L532.0 142.0 L535.0 141.5" fill="none" stroke="#ff0000" stroke-width="2" stroke-linejoin="round" shape-rendering="crispEdges"/><path d="M0 154h1v1h-1zM1 154h1v1h-1zM2 154h1v1h-1zM3 154h1v1h-1zM4 154h1v1h-1zM5 154h1v1h-1zM6 153h1v2h-1zM7 152h1v3h-1zM8 150h1v5h-1zM9 150h1v5h-1zM10 150h1v5h-1zM11 150h1v5h-1zM12 150h1v5h-1zM13 150h1v5h-1zM14 152h1v3h-1zM15 153h1v2h-1zM16 156h1v0h-1zM17 156h1v1h-1zM18 156h1v2h-1zM19 156h1v2h-1zM20 156h1v5h-1zM21 156h1v8h-1zM22 156h1v8h-1zM23 156h1v8h-1zM24 156h1v7h-1zM25 156h1v6h-1zM26 156h1v6h-1zM27 156h1v6h-1zM28 156h1v6h-1zM29 156h1v5h-1zM30 156h1v4h-1zM31 156h1v3h-1zM32 156h1v2h-1zM33 156h1v1h-1zM34 156h1v0h-1zM35 154h1v1h-1zM36 153h1v2h-1zM37 152h1v3h-1zM38 151h1v4h-1zM39 151h1v4h-1zM40 151h1v4h-1zM41 152h1v3h-1zM42 152h1v3h-1zM43 153h1v2h-1zM44 153h1v2h-1zM45 153h1v2h-1zM46 153h1v2h-1zM47 153h1v2h-1zM48 153h1v2h-1zM49 153h1v2h-1zM50 153h1v2h-1zM51 153h1v2h-1zM52 153h1v2h-1zM53 153h1v2h-1zM54 154h1v1h-1zM55 154h1v1h-1zM56 156h1v0h-1zM57 156h1v0h-1zM58 156h1v1h-1zM59 156h1v2h-1zM60 156h1v2h-1zM61 156h1v0h-1zM62 156h1v0h-1zM63 156h1v0h-1zM64 156h1v0h-1zM65 156h1v0h-1zM66 156h1v0h-1zM67 156h1v2h-1zM68 156h1v2h-1zM69 156h1v4h-1zM70 156h1v4h-1zM71 156h1v6h-1zM72 156h1v6h-1zM73 156h1v7h-1zM74 156h1v7h-1zM75 156h1v8h-1zM76 156h1v7h-1zM77 156h1v5h-1zM78 156h1v4h-1zM79 156h1v2h-1zM80 154h1v1h-1zM81 153h1v2h-1zM82 152h1v3h-1zM83 151h1v4h-1zM84 151h1v4h-1zM85 151h1v4h-1zM86 151h1v4h-1zM87 151h1v4h-1zM88 151h1v4h-1zM89 151h1v4h-1zM90 150h1v5h-1zM91 150h1v5h-1zM92 150h1v5h-1zM93 150h1v5h-1zM94 150h1v5h-1zM95 150h1v5h-1zM96 150h1v5h-1zM97 150h1v5h-1zM98 150h1v5h-1zM99 151h1v4h-1zM100 152h1v3h-1zM101 156h1v0h-1zM102 156h1v1h-1zM103 156h1v2h-1zM104 156h1v3h-1zM105 156h1v4h-1zM106 156h1v6h-1zM107 156h1v6h-1zM108 156h1v8h-1zM109 156h1v9h-1zM110 156h1v10h-1zM111 156h1v12h-1zM112 156h1v14h-1zM113 156h1v15h-1zM114 156h1v15h-1zM115 156h1v15h-1zM116 156h1v15h-1zM117 156h1v14h-1zM118 156h1v13h-1zM119 156h1v11h-1zM120 156h1v10h-1zM121 156h1v8h-1zM122 156h1v7h-1zM123 156h1v6h-1zM124 156h1v5h-1zM125 156h1v6h-1zM126 156h1v7h-1zM127 156h1v7h-1zM128 156h1v6h-1zM129 156h1v6h-1zM130 156h1v7h-1zM131 156h1v8h-1zM132 156h1v9h-1zM133 156h1v11h-1zM134 156h1v13h-1zM135 156h1v13h-1zM136 156h1v11h-1zM137 156h1v8h-1zM138 156h1v6h-1zM139 156h1v4h-1zM140 156h1v2h-1zM141 156h1v1h-1zM142 156h1v0h-1zM143 152h1v3h-1zM144 149h1v6h-1zM145 148h1v7h-1zM146 146h1v9h-1zM147 144h1v11h-1zM148 143h1v12h-1zM149 142h1v13h-1zM150 142h1v13h-1zM151 141h1v14h-1zM152 141h1v14h-1zM153 141h1v14h-1zM154 141h1v14h-1zM155 142h1v13h-1zM156 142h1v13h-1zM157 143h1v12h-1zM158 143h1v12h-1zM159 143h1v12h-1zM160 144h1v11h-1zM161 145h1v10h-1zM162 146h1v9h-1zM163 148h1v7h-1zM164 149h1v6h-1zM165 152h1v3h-1zM166 156h1v0h-1zM167 156h1v1h-1zM168 156h1v2h-1zM169 156h1v4h-1zM170 156h1v5h-1zM171 156h1v7h-1zM172 156h1v7h-1zM173 156h1v7h-1zM174 156h1v7h-1zM175 156h1v7h-1zM176 156h1v6h-1zM177 156h1v5h-1zM178 156h1v3h-1zM179 156h1v1h-1zM180 154h1v1h-1zM181 153h1v2h-1zM182 153h1v2h-1zM183 153h1v2h-1zM184 153h1v2h-1zM185 153h1v2h-1zM186 153h1v2h-1zM187 153h1v2h-1zM188 153h1v2h-1zM189 156h1v0h-1zM190 156h1v0h-1zM191 156h1v0h-1zM192 156h1v1h-1zM193 156h1v1h-1zM194 156h1v1h-1zM195 156h1v0h-1zM196 153h1v2h-1zM197 152h1v3h-1zM198 152h1v3h-1zM199 151h1v4h-1zM200 151h1v4h-1zM201 151h1v4h-1zM202 150h1v5h-1zM203 150h1v5h-1zM204 149h1v6h-1zM205 149h1v6h-1zM206 149h1v6h-1zM207 149h1v6h-1zM208 149h1v6h-1zM209 149h1v6h-1zM210 150h1v5h-1zM211 149h1v6h-1zM212 149h1v6h-1zM213 149h1v6h-1zM214 149h1v6h-1zM215 148h1v7h-1zM216 147h1v8h-1zM217 147h1v8h-1zM218 146h1v9h-1zM219 145h1v10h-1zM220 145h1v10h-1zM221 146h1v9h-1zM222 146h1v9h-1zM223 146h1v9h-1zM224 147h1v8h-1zM225 147h1v8h-1zM226 148h1v7h-1zM227 148h1v7h-1zM228 148h1v7h-1zM229 149h1v6h-1zM230 149h1v6h-1zM231 149h1v6h-1zM232 150h1v5h-1zM233 150h1v5h-1zM234 150h1v5h-1zM235 151h1v4h-1zM236 152h1v3h-1zM237 152h1v3h-1zM238 153h1v2h-1zM239 154h1v1h-1zM240 154h1v1h-1zM241 153h1v2h-1zM242 153h1v2h-1zM243 154h1v1h-1zM244 154h1v1h-1zM245 154h1v1h-1zM246 156h1v0h-1zM247 156h1v1h-1zM248 156h1v1h-1zM249 156h1v2h-1zM250 156h1v2h-1zM251 156h1v3h-1zM252 156h1v3h-1zM253 156h1v4h-1zM254 156h1v5h-1zM255 156h1v6h-1zM256 156h1v6h-1zM257 156h1v6h-1zM258 156h1v6h-1zM259 156h1v6h-1zM260 156h1v6h-1zM261 156h1v6h-1zM262 156h1v6h-1zM263 156h1v6h-1zM264 156h1v6h-1zM265 156h1v6h-1zM266 156h1v7h-1zM267 156h1v7h-1zM268 156h1v7h-1zM269 156h1v7h-1zM270 156h1v8h-1zM271 156h1v8h-1zM272 156h1v9h-1zM273 156h1v9h-1zM274 156h1v9h-1zM275 156h1v10h-1zM276 156h1v10h-1zM277 156h1v11h-1zM278 156h1v12h-1zM279 156h1v12h-1zM280 156h1v13h-1zM281 156h1v13h-1zM282 156h1v14h-1zM283 156h1v13h-1zM284 156h1v13h-1zM285 156h1v13h-1zM286 156h1v12h-1zM287 156h1v12h-1zM288 156h1v12h-1zM289 156h1v12h-1zM290 156h1v12h-1zM291 156h1v11h-1zM292 156h1v8h-1zM293 156h1v6h-1zM294 156h1v4h-1zM295 156h1v2h-1zM296 154h1v1h-1zM297 152h1v3h-1zM298 152h1v3h-1zM299 152h1v3h-1zM300 152h1v3h-1zM301 153h1v2h-1zM302 156h1v0h-1zM303 156h1v1h-1zM304 156h1v1h-1zM305 156h1v1h-1zM306 156h1v1h-1zM307 153h1v2h-1zM308 152h1v3h-1zM309 151h1v4h-1zM310 150h1v5h-1zM311 149h1v6h-1zM312 149h1v6h-1zM313 148h1v7h-1zM314 148h1v7h-1zM315 148h1v7h-1zM316 148h1v7h-1zM317 150h1v5h-1zM318 150h1v5h-1zM319 152h1v3h-1zM320 153h1v2h-1zM321 156h1v0h-1zM322 156h1v0h-1zM323 156h1v1h-1zM324 156h1v2h-1zM325 156h1v3h-1zM326 156h1v3h-1zM327 156h1v2h-1zM328 156h1v1h-1zM329 156h1v0h-1zM330 152h1v3h-1zM331 152h1v3h-1zM332 152h1v3h-1zM333 151h1v4h-1zM334 151h1v4h-1zM335 151h1v4h-1zM336 151h1v4h-1zM337 149h1v6h-1zM338 146h1v9h-1zM339 144h1v11h-1zM340 142h1v13h-1zM341 141h1v14h-1zM342 140h1v15h-1zM343 138h1v17h-1zM344 137h1v18h-1zM345 136h1v19h-1zM346 135h1v20h-1zM347 136h1v19h-1zM348 138h1v17h-1zM349 140h1v15h-1zM350 142h1v13h-1zM351 143h1v12h-1zM352 145h1v10h-1zM353 147h1v8h-1zM354 148h1v7h-1zM355 149h1v6h-1zM356 150h1v5h-1zM357 151h1v4h-1zM358 151h1v4h-1zM359 152h1v3h-1zM360 153h1v2h-1zM361 153h1v2h-1zM362 154h1v1h-1zM363 156h1v0h-1zM364 156h1v1h-1zM365 156h1v2h-1zM366 156h1v3h-1zM367 156h1v3h-1zM368 156h1v4h-1zM369 156h1v5h-1zM370 156h1v5h-1zM371 156h1v4h-1zM372 156h1v4h-1zM373 156h1v3h-1zM374 156h1v3h-1zM375 156h1v2h-1zM376 156h1v2h-1zM377 156h1v0h-1zM378 154h1v1h-1zM379 153h1v2h-1zM380 152h1v3h-1zM381 152h1v3h-1zM382 152h1v3h-1zM383 152h1v3h-1zM384 152h1v3h-1zM385 151h1v4h-1zM386 151h1v4h-1zM387 151h1v4h-1zM388 150h1v5h-1zM389 150h1v5h-1zM390 150h1v5h-1zM391 149h1v6h-1zM392 149h1v6h-1zM393 148h1v7h-1zM394 148h1v7h-1zM395 148h1v7h-1zM396 148h1v7h-1zM397 148h1v7h-1zM398 148h1v7h-1zM399 148h1v7h-1zM400 150h1v5h-1zM401 154h1v1h-1zM402 156h1v0h-1zM403 156h1v1h-1zM404 156h1v2h-1zM405 156h1v3h-1zM406 156h1v4h-1zM407 156h1v5h-1zM408 156h1v5h-1zM409 156h1v6h-1zM410 156h1v6h-1zM411 156h1v7h-1zM412 156h1v7h-1zM413 156h1v7h-1zM414 156h1v5h-1zM415 156h1v4h-1zM416 156h1v3h-1zM417 156h1v0h-1zM418 152h1v3h-1zM419 152h1v3h-1zM420 152h1v3h-1zM421 154h1v1h-1zM422 156h1v0h-1zM423 156h1v1h-1zM424 156h1v1h-1zM425 156h1v2h-1zM426 156h1v2h-1zM427 156h1v3h-1zM428 156h1v3h-1zM429 156h1v4h-1zM430 156h1v4h-1zM431 156h1v3h-1zM432 156h1v3h-1zM433 156h1v2h-1zM434 156h1v2h-1zM435 156h1v2h-1zM436 156h1v1h-1zM437 154h1v1h-1zM438 152h1v3h-1zM439 152h1v3h-1zM440 152h1v3h-1zM441 152h1v3h-1zM442 152h1v3h-1zM443 152h1v3h-1zM444 152h1v3h-1zM445 152h1v3h-1zM446 152h1v3h-1zM447 156h1v1h-1zM448 156h1v1h-1zM449 156h1v1h-1zM450 156h1v1h-1zM451 156h1v1h-1zM452 156h1v0h-1zM453 154h1v1h-1zM454 154h1v1h-1zM455 153h1v2h-1zM456 153h1v2h-1zM457 153h1v2h-1zM458 153h1v2h-1zM459 153h1v2h-1zM460 152h1v3h-1zM461 152h1v3h-1zM462 152h1v3h-1zM463 151h1v4h-1zM464 151h1v4h-1zM465 150h1v5h-1zM466 150h1v5h-1zM467 150h1v5h-1zM468 151h1v4h-1zM469 152h1v3h-1zM470 152h1v3h-1zM471 153h1v2h-1zM472 154h1v1h-1zM473 154h1v1h-1zM474 156h1v0h-1zM475 156h1v0h-1zM476 156h1v1h-1zM477 156h1v2h-1zM478 156h1v2h-1zM479 156h1v3h-1zM480 156h1v3h-1zM481 156h1v3h-1zM482 156h1v3h-1zM483 156h1v3h-1zM484 156h1v3h-1zM485 156h1v2h-1zM486 156h1v2h-1zM487 156h1v2h-1zM488 156h1v2h-1zM489 156h1v2h-1zM490 156h1v2h-1zM491 156h1v2h-1zM492 156h1v1h-1zM493 156h1v1h-1zM494 156h1v1h-1zM495 156h1v1h-1zM496 156h1v1h-1zM497 156h1v0h-1zM498 156h1v0h-1zM499 156h1v0h-1zM500 154h1v1h-1zM501 153h1v2h-1zM502 153h1v2h-1zM503 153h1v2h-1zM504 153h1v2h-1zM505 152h1v3h-1zM506 152h1v3h-1zM507 153h1v2h-1zM508 153h1v2h-1zM509 153h1v2h-1zM510 153h1v2h-1zM511 153h1v2h-1zM512 153h1v2h-1zM513 153h1v2h-1zM514 153h1v2h-1zM515 153h1v2h-1zM516 153h1v2h-1zM517 153h1v2h-1zM518 153h1v2h-1zM519 153h1v2h-1zM520 153h1v2h-1zM521 153h1v2h-1zM522 153h1v2h-1zM523 153h1v2h-1zM524 153h1v2h-1zM525 152h1v3h-1zM526 152h1v3h-1zM527 151h1v4h-1zM528 151h1v4h-1zM529 151h1v4h-1zM530 151h1v4h-1zM531 151h1v4h-1zM532 151h1v4h-1zM533 151h1v4h-1zM534 151h1v4h-1z" fill="#0000ff" shape-rendering="crispEdges"/><rect x="0" y="155" width="535" height="1" fill="#ff0000"/><path d="M2 276h1v12h-1z M1 277h2v10h-2z M7 264h1v15h-1z M6 265h2v13h-2z M10 260h1v7h-1z M9 260h2v7h-2z M16 270h1v19h-1z M15 272h2v16h-2z M24 296h1v8h-1z M23 296h2v8h-2z M26 286h1v19h-1z M25 288h2v16h-2z M29 286h1v20h-1z M28 288h2v16h-2z M35 274h1v15h-1z M34 275h2v13h-2z M38 270h1v10h-1z M37 271h2v8h-2z M41 270h1v7h-1z M40 270h2v7h-2z M44 278h1v10h-1z M43 279h2v8h-2z M47 272h1v8h-1z M46 272h2v8h-2z M53 267h1v9h-1z M52 268h2v8h-2z M59 273h1v8h-1z M58 273h2v8h-2z M62 273h1v11h-1z M61 274h2v9h-2z M65 271h1v7h-1z M64 271h2v7h-2z M75 291h1v10h-1z M74 292h2v8h-2z M78 285h1v7h-1z M77 285h2v7h-2z M81 272h1v14h-1z M80 273h2v12h-2z M87 273h1v6h-1z M86 273h2v6h-2z M93 268h1v12h-1z M92 269h2v10h-2z M96 262h1v5h-1z M95 262h2v5h-2z M99 265h1v9h-1z M98 266h2v8h-2z M105 284h1v13h-1z M104 285h2v11h-2z M118 333h1v43h-1z M117 338h2v34h-2z M121 332h1v9h-1z M120 333h2v8h-2z M130 358h1v30h-1z M129 361h2v24h-2z M136 391h1v30h-1z M135 394h2v24h-2z M139 382h1v16h-1z M138 383h2v14h-2z M145 374h1v28h-1z M144 377h2v23h-2z M148 367h1v9h-1z M147 368h2v8h-2z M151 362h1v6h-1z M150 362h2v6h-2z M154 359h1v9h-1z M153 360h2v8h-2z M160 353h1v23h-1z M159 355h2v19h-2z M167 386h1v18h-1z M166 388h2v15h-2z M170 383h1v22h-1z M169 385h2v18h-2z M176 408h1v12h-1z M175 409h2v10h-2z M179 402h1v6h-1z M178 402h2v6h-2z M182 395h1v7h-1z M181 395h2v7h-2z M191 414h1v12h-1z M190 415h2v10h-2z M197 412h1v11h-1z M196 413h2v9h-2z M200 407h1v10h-1z M199 408h2v8h-2z M203 409h1v7h-1z M202 409h2v7h-2z M206 403h1v5h-1z M205 403h2v5h-2z M213 400h1v12h-1z M212 401h2v10h-2z M216 391h1v9h-1z M215 392h2v8h-2z M219 382h1v10h-1z M218 383h2v8h-2z M225 377h1v5h-1z M224 377h2v5h-2z M231 371h1v11h-1z M230 372h2v9h-2z M234 369h1v4h-1z M233 369h2v4h-2z M240 370h1v11h-1z M239 371h2v9h-2z M243 365h1v8h-1z M242 365h2v8h-2z M249 365h1v9h-1z M248 366h2v8h-2z M256 383h1v7h-1z M255 383h2v7h-2z M259 379h1v5h-1z M258 379h2v5h-2z M262 381h1v7h-1z M261 381h2v7h-2z M268 395h1v7h-1z M267 395h2v7h-2z M271 397h1v7h-1z M270 397h2v7h-2z M280 431h1v20h-1z M279 433h2v16h-2z M283 441h1v16h-1z M282 442h2v14h-2z M290 467h1v21h-1z M289 469h2v17h-2z M292 466h1v21h-1z M291 468h2v17h-2z M295 459h1v14h-1z M294 460h2v12h-2z M298 458h1v9h-1z M297 459h2v8h-2z M305 483h1v20h-1z M304 485h2v16h-2z M311 470h1v16h-1z M310 471h2v14h-2z M320 491h1v15h-1z M319 492h2v13h-2z M329 501h1v41h-1z M328 505h2v33h-2z M332 500h1v13h-1z M331 501h2v11h-2z M338 500h1v16h-1z M337 501h2v14h-2z M341 475h1v23h-1z M340 477h2v19h-2z M344 454h1v23h-1z M343 456h2v19h-2z M351 455h1v15h-1z M350 456h2v13h-2z M356 461h1v14h-1z M355 462h2v12h-2z M360 461h1v7h-1z M359 461h2v7h-2z M366 474h1v7h-1z M365 474h2v7h-2z M372 479h1v16h-1z M371 480h2v14h-2z M378 466h1v17h-1z M377 468h2v14h-2z M381 461h1v8h-1z M380 461h2v8h-2z M387 459h1v8h-1z M386 459h2v8h-2z M391 450h1v15h-1z M390 451h2v13h-2z M394 441h1v10h-1z M393 442h2v8h-2z M403 453h1v5h-1z M402 453h2v5h-2z M406 449h1v10h-1z M405 450h2v8h-2z M409 454h1v7h-1z M408 454h2v7h-2z M415 467h1v6h-1z M414 467h2v6h-2z M418 462h1v6h-1z M417 462h2v6h-2z M421 448h1v18h-1z M420 450h2v15h-2z M430 471h1v12h-1z M429 472h2v10h-2z M436 466h1v11h-1z M435 467h2v9h-2z M440 463h1v5h-1z M439 463h2v5h-2z M446 462h1v7h-1z M445 462h2v7h-2z M452 470h1v9h-1z M451 471h2v8h-2z M455 467h1v5h-1z M454 467h2v5h-2z M458 466h1v3h-1z M457 466h2v3h-2z M462 460h1v7h-1z M461 460h2v7h-2z M464 454h1v6h-1z M463 454h2v6h-2z M467 454h1v3h-1z M466 454h2v3h-2z M473 457h1v6h-1z M472 457h2v6h-2z M483 464h1v4h-1z M482 464h2v4h-2z M489 469h1v6h-1z M488 469h2v6h-2z M492 467h1v5h-1z M491 467h2v5h-2z M498 463h1v5h-1z M497 463h2v5h-2z M501 462h1v3h-1z M500 462h2v3h-2z M507 458h1v4h-1z M506 458h2v4h-2z M510 457h1v6h-1z M509 457h2v6h-2z M516 459h1v5h-1z M515 459h2v5h-2z M519 456h1v5h-1z M518 456h2v5h-2z M522 454h1v4h-1z M521 454h2v4h-2z M525 449h1v9h-1z M524 450h2v8h-2z M528 440h1v6h-1z M527 440h2v6h-2z M535 439h1v7h-1z M534 439h2v7h-2z " fill="#008000" shape-rendering="crispEdges"/><path d="M4 276h1v5h-1z M3 276h2v5h-2z M13 260h1v14h-1z M12 261h2v12h-2z M19 266h1v17h-1z M18 268h2v14h-2z M22 274h1v30h-1z M21 277h2v24h-2z M32 279h1v11h-1z M31 280h2v9h-2z M50 268h1v11h-1z M49 269h2v9h-2z M56 270h1v15h-1z M55 271h2v13h-2z M68 281h1v9h-1z M67 282h2v8h-2z M72 284h1v16h-1z M71 285h2v14h-2z M84 269h1v8h-1z M83 269h2v8h-2z M90 274h1v7h-1z M89 274h2v7h-2z M102 272h1v22h-1z M101 274h2v18h-2z M108 284h1v23h-1z M107 286h2v19h-2z M111 300h1v23h-1z M110 302h2v19h-2z M114 321h1v39h-1z M113 325h2v32h-2z M124 332h1v14h-1z M123 333h2v12h-2z M127 354h1v20h-1z M126 356h2v16h-2z M133 364h1v46h-1z M132 369h2v37h-2z M142 381h1v18h-1z M141 383h2v15h-2z M157 360h1v9h-1z M156 361h2v8h-2z M164 355h1v37h-1z M163 359h2v30h-2z M173 394h1v24h-1z M172 396h2v20h-2z M185 395h1v19h-1z M184 397h2v16h-2z M188 400h1v11h-1z M187 401h2v9h-2z M194 413h1v13h-1z M193 414h2v11h-2z M210 404h1v5h-1z M209 404h2v5h-2z M222 381h1v2h-1z M221 381h2v2h-2z M228 375h1v8h-1z M227 375h2v8h-2z M237 368h1v8h-1z M236 368h2v8h-2z M246 364h1v17h-1z M245 366h2v14h-2z M253 366h1v18h-1z M252 368h2v15h-2z M265 384h1v18h-1z M264 386h2v15h-2z M274 407h1v12h-1z M273 408h2v10h-2z M277 419h1v16h-1z M276 420h2v14h-2z M286 443h1v13h-1z M285 444h2v11h-2z M288 462h1v16h-1z M287 463h2v14h-2z M302 463h1v35h-1z M301 467h2v28h-2z M308 469h1v23h-1z M307 471h2v19h-2z M315 473h1v11h-1z M314 474h2v9h-2z M317 484h1v16h-1z M316 485h2v14h-2z M323 498h1v17h-1z M322 500h2v14h-2z M326 512h1v19h-1z M325 514h2v16h-2z M335 495h1v17h-1z M334 497h2v14h-2z M348 446h1v21h-1z M347 448h2v17h-2z M354 462h1v12h-1z M353 463h2v10h-2z M363 460h1v20h-1z M362 462h2v16h-2z M369 477h1v17h-1z M368 479h2v14h-2z M375 479h1v6h-1z M374 479h2v6h-2z M384 462h1v8h-1z M383 462h2v8h-2z M398 437h1v9h-1z M397 438h2v8h-2z M400 438h1v18h-1z M399 440h2v15h-2z M412 460h1v15h-1z M411 461h2v13h-2z M424 454h1v15h-1z M423 455h2v13h-2z M426 466h1v14h-1z M425 467h2v12h-2z M433 470h1v9h-1z M432 471h2v8h-2z M443 466h1v6h-1z M442 466h2v6h-2z M449 465h1v13h-1z M448 466h2v11h-2z M470 452h1v9h-1z M469 453h2v8h-2z M476 457h1v5h-1z M475 457h2v5h-2z M479 459h1v6h-1z M478 459h2v6h-2z M486 467h1v5h-1z M485 467h2v5h-2z M495 467h1v4h-1z M494 467h2v4h-2z M504 456h1v6h-1z M503 456h2v6h-2z M513 457h1v5h-1z M512 457h2v5h-2z M532 439h1v7h-1z M531 439h2v7h-2z " fill="#ff0000" shape-rendering="crispEdges"/><path d="M0.0 316.9 L7.9 313.8 L15.7 310.6 L23.6 305.9 L31.5 302.8 L39.4 299.6 L47.2 295.7 L55.1 292.2 L63.0 289.4 L70.9 287.0 L78.7 285.4 L86.6 283.9 L94.5 282.3 L100.9 281.0 L109.7 281.7 L117.0 285.0 L127.3 287.9 L133.2 291.6 L140.0 296.6 L144.4 299.9 L151.0 303.8 L158.7 309.3 L163.2 311.5 L168.7 316.5 L175.3 320.3 L181.9 325.8 L188.5 330.8 L195.1 337.4 L201.7 342.9 L208.4 349.0 L218.9 357.1 L227.1 362.8 L235.3 368.5 L243.4 373.4 L248.2 376.2 L256.3 381.1 L264.5 384.4 L272.6 388.4 L282.4 392.5 L290.6 395.8 L298.7 401.5 L305.3 407.2 L310.0 410.5 L335.0 427.8 L344.0 431.4 L353.0 435.0 L361.9 437.7 L370.9 444.9 L379.9 452.1 L388.9 457.5 L397.8 461.9 L405.0 463.5 L410.5 466.3 L416.1 469.8 L423.0 471.9 L432.7 473.9 L441.1 473.9 L450.8 473.9 L457.7 472.6 L465.0 471.6 L471.3 470.4 L477.6 467.6 L483.9 466.6 L492.7 465.6 L502.8 465.6 L509.1 465.3 L517.9 464.7 L524.2 462.8 L528.0 462.2 L534.3 461.6" fill="none" stroke="#ff0000" stroke-width="2" stroke-linejoin="round" shape-rendering="crispEdges"/><path d="M0.0 295.6 L4.7 292.0 L9.4 288.5 L13.4 286.1 L20.5 285.0 L26.8 285.0 L34.6 284.1 L44.1 283.5 L50.4 283.0 L56.7 280.6 L64.6 279.4 L70.9 279.8 L78.7 280.6 L88.2 281.4 L91.3 282.2 L96.1 280.6 L102.3 279.5 L108.2 279.8 L112.6 282.0 L118.5 287.1 L124.4 293.0 L130.2 299.6 L134.6 306.2 L139.1 314.3 L144.9 322.4 L152.3 328.2 L158.8 335.6 L165.4 343.7 L170.3 353.2 L173.3 360.3 L179.0 370.1 L186.3 378.2 L194.5 387.2 L203.4 393.7 L212.4 394.9 L222.2 396.2 L228.7 397.5 L235.3 398.6 L240.0 398.4 L246.5 396.5 L253.1 392.4 L261.2 390.0 L268.5 387.5 L275.9 387.5 L282.4 390.8 L288.9 395.7 L295.5 402.2 L302.0 411.2 L306.9 419.3 L310.0 424.2 L315.0 430.7 L320.9 440.5 L326.8 452.2 L332.6 462.0 L338.5 470.8 L344.0 477.0 L353.0 482.4 L361.9 483.6 L372.7 485.1 L381.7 484.2 L390.7 482.9 L396.0 478.8 L403.2 472.5 L408.5 469.8 L411.9 467.0 L416.1 465.4 L425.8 465.4 L435.5 466.7 L442.4 464.9 L449.4 463.6 L457.7 464.2 L466.0 464.2 L471.3 464.8 L477.6 466.3 L483.9 466.3 L490.2 467.0 L496.5 467.3 L502.8 467.0 L509.1 466.3 L515.4 465.4 L521.7 464.2 L528.0 462.0 L534.3 460.4" fill="none" stroke="#000" stroke-width="2" stroke-linejoin="round" shape-rendering="crispEdges"/><line x1="362.8" y1="427.8" x2="520" y2="465.2" stroke="#0000ff" stroke-width="2" shape-rendering="crispEdges"/><line x1="370.9" y1="495.2" x2="525.7" y2="467" stroke="#0000ff" stroke-width="2" shape-rendering="crispEdges"/><rect x="588" y="430" width="46" height="16" fill="#000"/><text x="633.5" y="442.5" text-anchor="end" font-family='"Liberation Sans", sans-serif' font-size="11" fill="#00ff00">1116.020</text><path d="M0 582h1v13h-1zM1 582h1v13h-1zM2 583h1v12h-1zM3 583h1v12h-1zM4 583h1v12h-1zM5 583h1v12h-1zM6 582h1v13h-1zM7 582h1v13h-1zM8 579h1v16h-1zM9 577h1v18h-1zM10 577h1v18h-1zM11 574h1v21h-1zM12 574h1v21h-1zM13 574h1v21h-1zM14 574h1v21h-1zM15 576h1v19h-1zM16 576h1v19h-1zM17 579h1v16h-1zM18 581h1v14h-1zM19 581h1v14h-1zM20 581h1v14h-1zM21 583h1v12h-1zM22 583h1v12h-1zM23 587h1v8h-1zM24 583h1v12h-1zM25 583h1v12h-1zM26 583h1v12h-1zM27 583h1v12h-1zM28 583h1v12h-1zM29 584h1v11h-1zM30 583h1v12h-1zM31 587h1v8h-1zM32 591h1v4h-1zM33 586h1v9h-1zM34 586h1v9h-1zM35 586h1v9h-1zM36 586h1v9h-1zM37 586h1v9h-1zM38 584h1v11h-1zM39 584h1v11h-1zM40 584h1v11h-1zM41 586h1v9h-1zM42 586h1v9h-1zM43 586h1v9h-1zM44 587h1v8h-1zM45 587h1v8h-1zM46 586h1v9h-1zM47 586h1v9h-1zM48 586h1v9h-1zM49 586h1v9h-1zM50 582h1v13h-1zM51 582h1v13h-1zM52 584h1v11h-1zM53 584h1v11h-1zM54 579h1v16h-1zM55 579h1v16h-1zM56 583h1v12h-1zM57 583h1v12h-1zM58 582h1v13h-1zM59 582h1v13h-1zM60 580h1v15h-1zM61 580h1v15h-1zM62 580h1v15h-1zM63 580h1v15h-1zM64 580h1v15h-1zM65 580h1v15h-1zM66 580h1v15h-1zM67 581h1v14h-1zM68 581h1v14h-1zM69 581h1v14h-1zM70 583h1v12h-1zM71 584h1v11h-1zM72 584h1v11h-1zM73 587h1v8h-1zM74 585h1v10h-1zM75 583h1v12h-1zM76 583h1v12h-1zM77 584h1v11h-1zM78 583h1v12h-1zM79 583h1v12h-1zM80 583h1v12h-1zM81 583h1v12h-1zM82 583h1v12h-1zM83 585h1v10h-1zM84 584h1v11h-1zM85 579h1v16h-1zM86 579h1v16h-1zM87 586h1v9h-1zM88 584h1v11h-1zM89 584h1v11h-1zM90 584h1v11h-1zM91 586h1v9h-1zM92 586h1v9h-1zM93 586h1v9h-1zM94 584h1v11h-1zM95 584h1v11h-1zM96 585h1v10h-1zM97 587h1v8h-1zM98 580h1v15h-1zM99 580h1v15h-1zM100 585h1v10h-1zM101 585h1v10h-1zM102 585h1v10h-1zM103 586h1v9h-1zM104 586h1v9h-1zM105 586h1v9h-1zM106 585h1v10h-1zM107 585h1v10h-1zM108 585h1v10h-1zM109 585h1v10h-1zM110 589h1v6h-1zM111 586h1v9h-1zM112 585h1v10h-1zM113 586h1v9h-1zM114 586h1v9h-1zM115 585h1v10h-1zM116 587h1v8h-1zM117 586h1v9h-1zM118 588h1v7h-1zM119 587h1v8h-1zM120 588h1v7h-1zM121 588h1v7h-1zM122 588h1v7h-1zM123 588h1v7h-1zM124 588h1v7h-1zM125 587h1v8h-1zM126 587h1v8h-1zM127 587h1v8h-1zM128 589h1v6h-1zM129 589h1v6h-1zM130 589h1v6h-1zM131 589h1v6h-1zM132 584h1v11h-1zM133 584h1v11h-1zM134 587h1v8h-1zM135 590h1v5h-1zM136 589h1v6h-1zM137 588h1v7h-1zM138 588h1v7h-1zM139 588h1v7h-1zM140 588h1v7h-1zM141 589h1v6h-1zM142 591h1v4h-1zM143 593h1v2h-1zM144 590h1v5h-1zM145 590h1v5h-1zM146 590h1v5h-1zM147 589h1v6h-1zM148 589h1v6h-1zM149 589h1v6h-1zM150 591h1v4h-1zM151 589h1v6h-1zM152 589h1v6h-1zM153 593h1v2h-1zM154 589h1v6h-1zM155 589h1v6h-1zM156 589h1v6h-1zM157 589h1v6h-1zM158 586h1v9h-1zM159 586h1v9h-1zM160 586h1v9h-1zM161 586h1v9h-1zM162 586h1v9h-1zM163 586h1v9h-1zM164 586h1v9h-1zM165 586h1v9h-1zM166 586h1v9h-1zM167 586h1v9h-1zM168 586h1v9h-1zM169 586h1v9h-1zM170 591h1v4h-1zM171 593h1v2h-1zM172 591h1v4h-1zM173 591h1v4h-1zM174 591h1v4h-1zM175 590h1v5h-1zM176 590h1v5h-1zM177 590h1v5h-1zM178 590h1v5h-1zM179 589h1v6h-1zM180 589h1v6h-1zM181 589h1v6h-1zM182 589h1v6h-1zM183 590h1v5h-1zM184 593h1v2h-1zM185 589h1v6h-1zM186 593h1v2h-1zM187 593h1v2h-1zM188 593h1v2h-1zM189 589h1v6h-1zM190 590h1v5h-1zM191 590h1v5h-1zM192 590h1v5h-1zM193 590h1v5h-1zM194 591h1v4h-1zM195 592h1v3h-1zM196 592h1v3h-1zM197 590h1v5h-1zM198 591h1v4h-1zM199 591h1v4h-1zM200 590h1v5h-1zM201 591h1v4h-1zM202 592h1v3h-1zM203 591h1v4h-1zM204 591h1v4h-1zM205 590h1v5h-1zM206 590h1v5h-1zM207 591h1v4h-1zM208 591h1v4h-1zM209 593h1v2h-1zM210 595h1v0h-1zM211 591h1v4h-1zM212 590h1v5h-1zM213 594h1v1h-1zM214 591h1v4h-1zM215 584h1v11h-1zM216 584h1v11h-1zM217 584h1v11h-1zM218 584h1v11h-1zM219 584h1v11h-1zM220 589h1v6h-1zM221 591h1v4h-1zM222 593h1v2h-1zM223 590h1v5h-1zM224 589h1v6h-1zM225 588h1v7h-1zM226 588h1v7h-1zM227 583h1v12h-1zM228 583h1v12h-1zM229 589h1v6h-1zM230 588h1v7h-1zM231 592h1v3h-1zM232 588h1v7h-1zM233 590h1v5h-1zM234 590h1v5h-1zM235 588h1v7h-1zM236 588h1v7h-1zM237 588h1v7h-1zM238 588h1v7h-1zM239 588h1v7h-1zM240 588h1v7h-1zM241 588h1v7h-1zM242 588h1v7h-1zM243 590h1v5h-1zM244 588h1v7h-1zM245 583h1v12h-1zM246 583h1v12h-1zM247 590h1v5h-1zM248 589h1v6h-1zM249 590h1v5h-1zM250 588h1v7h-1zM251 588h1v7h-1zM252 583h1v12h-1zM253 583h1v12h-1zM254 588h1v7h-1zM255 588h1v7h-1zM256 588h1v7h-1zM257 590h1v5h-1zM258 590h1v5h-1zM259 590h1v5h-1zM260 590h1v5h-1zM261 589h1v6h-1zM262 589h1v6h-1zM263 589h1v6h-1zM264 589h1v6h-1zM265 590h1v5h-1zM266 589h1v6h-1zM267 589h1v6h-1zM268 593h1v2h-1zM269 590h1v5h-1zM270 591h1v4h-1zM271 590h1v5h-1zM272 585h1v10h-1zM273 585h1v10h-1zM274 592h1v3h-1zM275 590h1v5h-1zM276 591h1v4h-1zM277 590h1v5h-1zM278 590h1v5h-1zM279 591h1v4h-1zM280 590h1v5h-1zM281 590h1v5h-1zM282 590h1v5h-1zM283 594h1v1h-1zM284 591h1v4h-1zM285 583h1v12h-1zM286 583h1v12h-1zM287 590h1v5h-1zM288 590h1v5h-1zM289 594h1v1h-1zM290 592h1v3h-1zM291 590h1v5h-1zM292 590h1v5h-1zM293 590h1v5h-1zM294 590h1v5h-1zM295 590h1v5h-1zM296 590h1v5h-1zM297 591h1v4h-1zM298 591h1v4h-1zM299 592h1v3h-1zM300 590h1v5h-1zM301 591h1v4h-1zM302 591h1v4h-1zM303 590h1v5h-1zM304 592h1v3h-1zM305 594h1v1h-1zM306 590h1v5h-1zM307 594h1v1h-1zM308 590h1v5h-1zM309 590h1v5h-1zM310 594h1v1h-1zM311 592h1v3h-1zM312 590h1v5h-1zM313 590h1v5h-1zM314 590h1v5h-1zM315 590h1v5h-1zM316 590h1v5h-1zM317 590h1v5h-1zM318 591h1v4h-1zM319 590h1v5h-1zM320 589h1v6h-1zM321 589h1v6h-1zM322 586h1v9h-1zM323 586h1v9h-1zM324 586h1v9h-1zM325 588h1v7h-1zM326 588h1v7h-1zM327 580h1v15h-1zM328 580h1v15h-1zM329 588h1v7h-1zM330 582h1v13h-1zM331 582h1v13h-1zM332 588h1v7h-1zM333 579h1v16h-1zM334 579h1v16h-1zM335 588h1v7h-1zM336 588h1v7h-1zM337 588h1v7h-1zM338 588h1v7h-1zM339 581h1v14h-1zM340 576h1v19h-1zM341 576h1v19h-1zM342 581h1v14h-1zM343 573h1v22h-1zM344 573h1v22h-1zM345 576h1v19h-1zM346 576h1v19h-1zM347 571h1v24h-1zM348 571h1v24h-1zM349 584h1v11h-1zM350 584h1v11h-1zM351 584h1v11h-1zM352 582h1v13h-1zM353 582h1v13h-1zM354 582h1v13h-1zM355 582h1v13h-1zM356 584h1v11h-1zM357 584h1v11h-1zM358 585h1v10h-1zM359 585h1v10h-1zM360 585h1v10h-1zM361 582h1v13h-1zM362 582h1v13h-1zM363 579h1v16h-1zM364 579h1v16h-1zM365 582h1v13h-1zM366 582h1v13h-1zM367 582h1v13h-1zM368 588h1v7h-1zM369 588h1v7h-1zM370 584h1v11h-1zM371 584h1v11h-1zM372 589h1v6h-1zM373 589h1v6h-1zM374 589h1v6h-1zM375 591h1v4h-1zM376 591h1v4h-1zM377 587h1v8h-1zM378 587h1v8h-1zM379 588h1v7h-1zM380 588h1v7h-1zM381 588h1v7h-1zM382 586h1v9h-1zM383 586h1v9h-1zM384 590h1v5h-1zM385 590h1v5h-1zM386 587h1v8h-1zM387 587h1v8h-1zM388 590h1v5h-1zM389 590h1v5h-1zM390 588h1v7h-1zM391 588h1v7h-1zM392 588h1v7h-1zM393 587h1v8h-1zM394 587h1v8h-1zM395 589h1v6h-1zM396 589h1v6h-1zM397 587h1v8h-1zM398 587h1v8h-1zM399 584h1v11h-1zM400 584h1v11h-1zM401 591h1v4h-1zM402 590h1v5h-1zM403 590h1v5h-1zM404 590h1v5h-1zM405 591h1v4h-1zM406 591h1v4h-1zM407 590h1v5h-1zM408 589h1v6h-1zM409 590h1v5h-1zM410 589h1v6h-1zM411 589h1v6h-1zM412 590h1v5h-1zM413 589h1v6h-1zM414 589h1v6h-1zM415 593h1v2h-1zM416 593h1v2h-1zM417 589h1v6h-1zM418 589h1v6h-1zM419 583h1v12h-1zM420 583h1v12h-1zM421 583h1v12h-1zM422 583h1v12h-1zM423 583h1v12h-1zM424 589h1v6h-1zM425 588h1v7h-1zM426 588h1v7h-1zM427 591h1v4h-1zM428 588h1v7h-1zM429 589h1v6h-1zM430 589h1v6h-1zM431 592h1v3h-1zM432 592h1v3h-1zM433 592h1v3h-1zM434 592h1v3h-1zM435 590h1v5h-1zM436 590h1v5h-1zM437 590h1v5h-1zM438 591h1v4h-1zM439 591h1v4h-1zM440 591h1v4h-1zM441 592h1v3h-1zM442 590h1v5h-1zM443 590h1v5h-1zM444 594h1v1h-1zM445 590h1v5h-1zM446 591h1v4h-1zM447 591h1v4h-1zM448 590h1v5h-1zM449 592h1v3h-1zM450 592h1v3h-1zM451 591h1v4h-1zM452 591h1v4h-1zM453 593h1v2h-1zM454 591h1v4h-1zM455 591h1v4h-1zM456 590h1v5h-1zM457 586h1v9h-1zM458 586h1v9h-1zM459 592h1v3h-1zM460 590h1v5h-1zM461 592h1v3h-1zM462 591h1v4h-1zM463 583h1v12h-1zM464 583h1v12h-1zM465 583h1v12h-1zM466 589h1v6h-1zM467 588h1v7h-1zM468 579h1v16h-1zM469 590h1v5h-1zM470 588h1v7h-1zM471 583h1v12h-1zM472 583h1v12h-1zM473 588h1v7h-1zM474 587h1v8h-1zM475 587h1v8h-1zM476 588h1v7h-1zM477 584h1v11h-1zM478 584h1v11h-1zM479 587h1v8h-1zM480 591h1v4h-1zM481 591h1v4h-1zM482 591h1v4h-1zM483 593h1v2h-1zM484 587h1v8h-1zM485 587h1v8h-1zM486 589h1v6h-1zM487 588h1v7h-1zM488 589h1v6h-1zM489 592h1v3h-1zM490 588h1v7h-1zM491 588h1v7h-1zM492 588h1v7h-1zM493 589h1v6h-1zM494 589h1v6h-1zM495 590h1v5h-1zM496 590h1v5h-1zM497 589h1v6h-1zM498 589h1v6h-1zM499 584h1v11h-1zM500 584h1v11h-1zM501 584h1v11h-1zM502 584h1v11h-1zM503 584h1v11h-1zM504 589h1v6h-1zM505 589h1v6h-1zM506 584h1v11h-1zM507 584h1v11h-1zM508 590h1v5h-1zM509 589h1v6h-1zM510 585h1v10h-1zM511 585h1v10h-1zM512 585h1v10h-1zM513 585h1v10h-1zM514 585h1v10h-1zM515 585h1v10h-1zM516 591h1v4h-1zM517 591h1v4h-1zM518 587h1v8h-1zM519 586h1v9h-1zM520 581h1v14h-1zM521 581h1v14h-1zM522 581h1v14h-1zM523 586h1v9h-1zM524 579h1v16h-1zM525 579h1v16h-1zM526 585h1v10h-1zM527 580h1v15h-1zM528 580h1v15h-1zM529 580h1v15h-1zM530 574h1v21h-1zM531 574h1v21h-1zM532 586h1v9h-1zM533 583h1v12h-1zM534 585h1v10h-1z" fill="#008000" shape-rendering="crispEdges"/><path d="M0.0 580.7 L5.5 581.8 L8.8 580.7 L14.3 579.6 L18.7 579.0 L23.2 579.9 L30.9 580.7 L38.6 581.8 L44.1 583.4 L48.5 584.5 L51.8 585.1 L55.1 584.3 L61.7 583.4 L66.2 582.9 L70.0 582.4 L95.2 582.6 L96.4 583.6 L117.9 584.3 L120.4 585.5 L133.0 586.2 L140.5 587.4 L145.6 588.7 L148.8 588.3 L155.1 587.8 L158.3 588.6 L163.0 589.4 L166.1 588.1 L178.7 588.1 L189.8 588.3 L192.9 589.4 L200.0 589.4 L203.1 589.4 L206.3 588.9 L209.4 589.9 L212.6 589.4 L215.7 588.6 L222.0 587.8 L231.5 586.7 L255.1 586.7 L258.3 587.8 L267.7 588.3 L272.4 589.4 L300.0 588.9 L315.7 588.9 L320.0 589.3 L325.0 588.7 L332.6 587.4 L338.9 586.8 L345.2 584.3 L350.9 581.7 L355.3 581.7 L362.8 581.7 L366.6 580.5 L370.4 581.7 L375.4 584.9 L380.5 586.2 L385.5 588.0 L390.5 589.3 L400.0 588.7 L415.7 587.8 L428.3 587.4 L431.5 588.6 L437.8 589.4 L440.9 588.6 L450.4 588.6 L453.5 589.9 L463.0 588.6 L467.7 587.4 L474.0 586.3 L478.7 586.3 L494.2 586.7 L495.7 588.3 L511.5 587.8 L519.4 585.5 L527.2 583.9 L534.3 582.3" fill="none" stroke="#ff0000" stroke-width="2" stroke-linejoin="round" shape-rendering="crispEdges"/><rect x="0" y="595" width="584" height="1" fill="#000"/><rect x="585" y="582" width="39" height="13" fill="#fff"/><rect x="585" y="582" width="39" height="1" fill="#000"/><rect x="585" y="582" width="1" height="13" fill="#000"/><rect x="623" y="582" width="1" height="13" fill="#000"/><text x="587" y="592" font-family='"Liberation Sans", sans-serif' font-size="9.2" fill="#000">x100000</text><rect x="7" y="595" width="1" height="17" fill="#000"/><text x="9" y="609" font-family='"Liberation Sans", sans-serif' font-size="12" letter-spacing="0.4" fill="#000">2022</text><rect x="35" y="595" width="1" height="3" fill="#000"/><rect x="59" y="595" width="1" height="17" fill="#000"/><text x="61" y="609" font-family='"Liberation Sans", sans-serif' font-size="12" letter-spacing="0.4" fill="#000">Mar</text><rect x="93" y="595" width="1" height="17" fill="#000"/><text x="95" y="609" font-family='"Liberation Sans", sans-serif' font-size="12" letter-spacing="0.4" fill="#000">Apr</text><rect x="123" y="595" width="1" height="17" fill="#000"/><text x="125" y="609" font-family='"Liberation Sans", sans-serif' font-size="12" letter-spacing="0.4" fill="#000">May</text><rect x="153" y="595" width="1" height="17" fill="#000"/><text x="155" y="609" font-family='"Liberation Sans", sans-serif' font-size="12" letter-spacing="0.4" fill="#000">Jun</text><rect x="186" y="595" width="1" height="17" fill="#000"/><text x="188" y="609" font-family='"Liberation Sans", sans-serif' font-size="12" letter-spacing="0.4" fill="#000">Jul</text><rect x="216" y="595" width="1" height="17" fill="#000"/><text x="218" y="609" font-family='"Liberation Sans", sans-serif' font-size="12" letter-spacing="0.4" fill="#000">Aug</text><rect x="252" y="595" width="1" height="17" fill="#000"/><text x="254" y="609" font-family='"Liberation Sans", sans-serif' font-size="12" letter-spacing="0.4" fill="#000">Sep</text><rect x="280" y="595" width="1" height="17" fill="#000"/><text x="282" y="609" font-family='"Liberation Sans", sans-serif' font-size="12" letter-spacing="0.4" fill="#000">Oct</text><rect x="311" y="595" width="1" height="17" fill="#000"/><text x="313" y="609" font-family='"Liberation Sans", sans-serif' font-size="12" letter-spacing="0.4" fill="#000">Nov</text><rect x="344" y="595" width="1" height="17" fill="#000"/><text x="346" y="609" font-family='"Liberation Sans", sans-serif' font-size="12" letter-spacing="0.4" fill="#000">Dec</text><rect x="377" y="595" width="1" height="17" fill="#000"/><text x="379" y="609" font-family='"Liberation Sans", sans-serif' font-size="12" letter-spacing="0.4" fill="#000">2023</text><rect x="400" y="595" width="1" height="3" fill="#000"/><rect x="430" y="595" width="1" height="17" fill="#000"/><text x="432" y="609" font-family='"Liberation Sans", sans-serif' font-size="12" letter-spacing="0.4" fill="#000">Mar</text><rect x="464" y="595" width="1" height="17" fill="#000"/><text x="466" y="609" font-family='"Liberation Sans", sans-serif' font-size="12" letter-spacing="0.4" fill="#000">Apr</text><rect x="494" y="595" width="1" height="17" fill="#000"/><text x="496" y="609" font-family='"Liberation Sans", sans-serif' font-size="12" letter-spacing="0.4" fill="#000">May</text><rect x="524" y="595" width="1" height="17" fill="#000"/><text x="526" y="609" font-family='"Liberation Sans", sans-serif' font-size="12" letter-spacing="0.4" fill="#000">Jun</text><rect x="556" y="595" width="1" height="17" fill="#000"/><text x="558" y="609" font-family='"Liberation Sans", sans-serif' font-size="12" letter-spacing="0.4" fill="#000">Jul</text></svg>
</body></html>
